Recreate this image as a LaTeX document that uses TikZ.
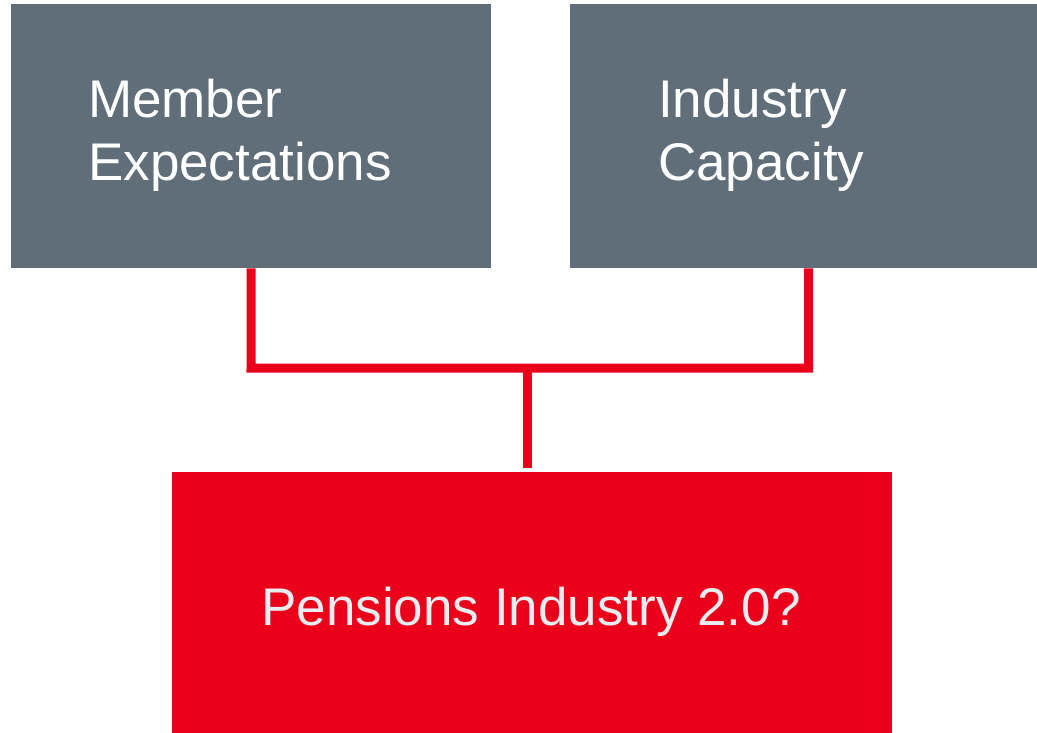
\documentclass[tikz,border=0pt]{standalone}
\usepackage{fontspec}
\setmainfont{Liberation Sans}
\definecolor{slate}{RGB}{95,110,120}
\definecolor{signalred}{RGB}{235,0,27}
\definecolor{paletext}{RGB}{232,237,239}
\begin{document}
\begin{tikzpicture}[x=1pt,y=-1pt,
  box/.style={draw=none,inner sep=0pt,anchor=north west},
  greybox/.style={box,fill=slate},
  redbox/.style={box,fill=signalred},
  lbl/.style={inner sep=0pt,align=left,font=\fontsize{53}{63}\selectfont},
  conn/.style={draw=signalred,line width=9pt,line join=miter}]
  \useasboundingbox (0,0) rectangle (1037,733);
  % the three blocks
  \node[greybox,minimum width=480pt,minimum height=264pt] (memb) at (11,4) {};
  \node[greybox,minimum width=467pt,minimum height=264pt] (indu) at (570,4) {};
  \node[redbox,minimum width=720pt,minimum height=261pt] (pens) at (172,472) {};
  % block labels
  \node[lbl,text=white,anchor=north west] (membtxt) at (88,78.5) {Member\\Expectations};
  \node[lbl,text=white,anchor=north west] (indutxt) at (658,78.5) {Industry\\Capacity};
  \node[lbl,text=paletext,anchor=base] (penstxt) at (531,625) {Pensions Industry 2.0?};
  % bracket joining the two inputs into the outcome
  \coordinate (jl) at (251,368);
  \coordinate (jr) at (808.5,368);
  \coordinate (jm) at (527.5,368);
  \draw[conn] (memb.south) -- (jl) -- (jr) -- (jr |- indu.south);
  \draw[conn,shorten >=4.5pt] (jm) -- (jm |- pens.north);
\end{tikzpicture}
\end{document}
